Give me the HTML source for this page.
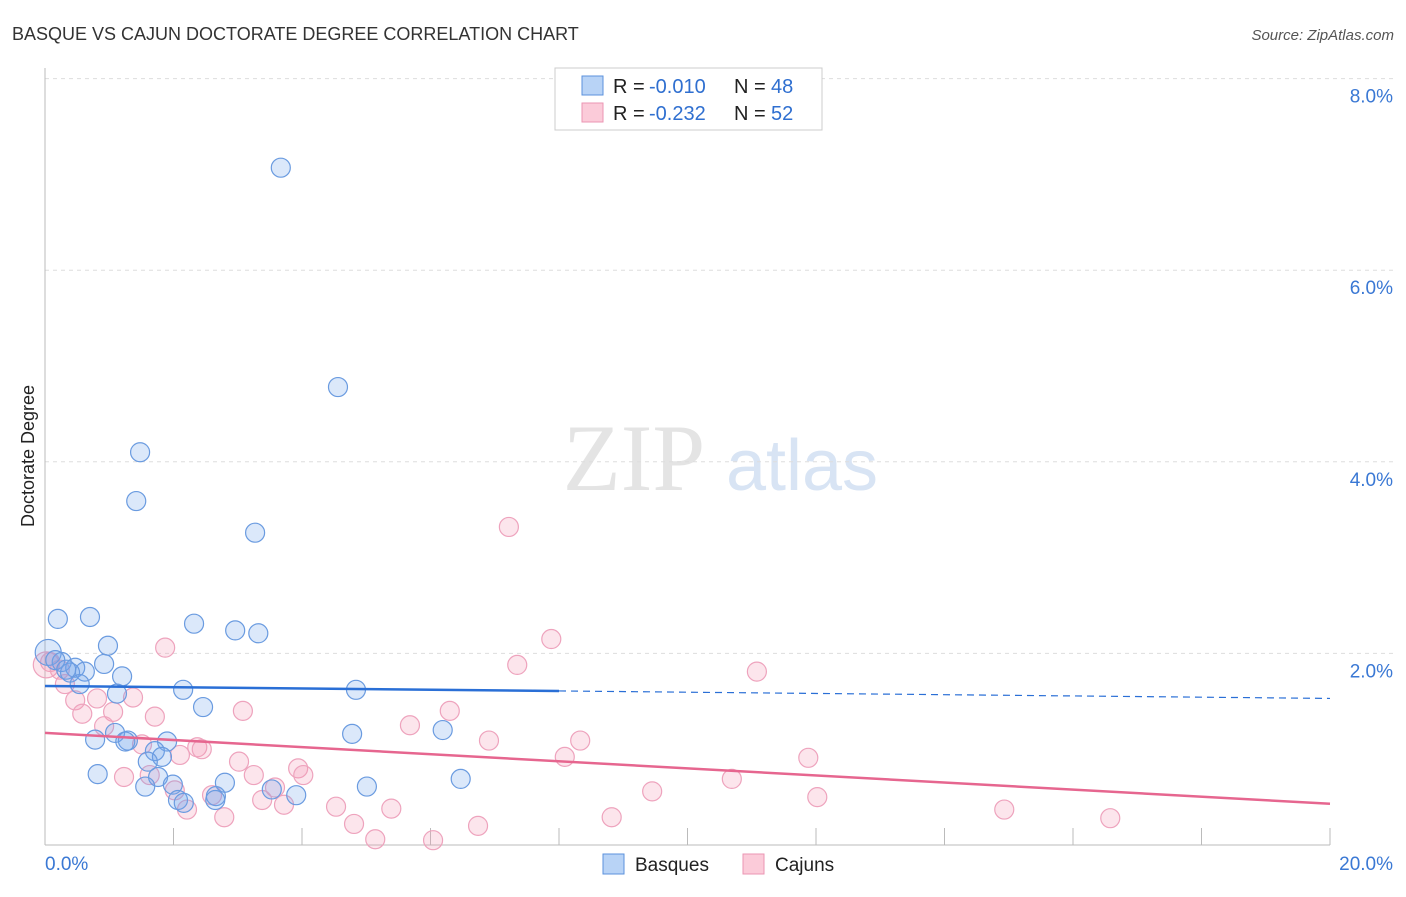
<!DOCTYPE html>
<html><head><meta charset="utf-8"><style>
body{margin:0;background:#fff;font-family:"Liberation Sans",sans-serif;}
#c{position:relative;width:1406px;height:892px;}
</style></head><body>
<div id="c">
<svg id="s" width="1406" height="892" xmlns="http://www.w3.org/2000/svg">
<text x="12" y="40" font-size="18" fill="#333">BASQUE VS CAJUN DOCTORATE DEGREE CORRELATION CHART</text>
<text x="1394" y="40" font-size="15" fill="#555" font-style="italic" text-anchor="end">Source: ZipAtlas.com</text>
<text x="634" y="490" font-size="95" fill="#e4e4e4" font-family="Liberation Serif,serif" text-anchor="middle">ZIP</text>
<text x="802" y="490" font-size="72" fill="#d8e4f4" text-anchor="middle">atlas</text>
<text transform="translate(34,456) rotate(-90)" font-size="18" fill="#222" text-anchor="middle">Doctorate Degree</text>
<g id="grid"></g><g id="pts"></g><g id="trend"></g>
<g>
<rect x="555" y="68" width="267" height="62" fill="#fff" stroke="#ccc"/>
<rect x="582" y="76" width="21" height="19" fill="#b8d3f6" stroke="#5b92dc"/>
<rect x="582" y="103" width="21" height="19" fill="#fbcbd9" stroke="#eb96b3"/>
<text x="613" y="93" font-size="20" fill="#222">R =</text>
<text x="649" y="93" font-size="20" fill="#2f6fd0">-0.010</text>
<text x="734" y="93" font-size="20" fill="#222">N =</text>
<text x="771" y="93" font-size="20" fill="#2f6fd0">48</text>
<text x="613" y="120" font-size="20" fill="#222">R =</text>
<text x="649" y="120" font-size="20" fill="#2f6fd0">-0.232</text>
<text x="734" y="120" font-size="20" fill="#222">N =</text>
<text x="771" y="120" font-size="20" fill="#2f6fd0">52</text>
</g>
<g>
<rect x="603" y="854" width="21" height="20" fill="#b8d3f6" stroke="#5b92dc"/>
<text x="635" y="871" font-size="19" fill="#222">Basques</text>
<rect x="743" y="854" width="21" height="20" fill="#fbcbd9" stroke="#eb96b3"/>
<text x="775" y="871" font-size="19" fill="#222">Cajuns</text>
</g>
</svg></div>
<script>
const yTicks=[2,4,6,8];
const yTickLabels=["2.0%","4.0%","6.0%","8.0%"];
const xTicks=[2,4,6,8,10,12,14,16,18,20];
const blueX=[3.67,4.56,1.48,1.42,3.27,0.20,0.70,2.32,2.96,3.32,0.98,0.05,0.26,0.92,0.47,0.62,0.39,1.20,0.54,2.15,1.12,4.84,2.46,0.78,4.78,6.19,1.29,1.90,1.09,1.71,1.82,1.60,0.82,1.76,2.80,1.99,1.56,5.01,6.47,2.66,3.91,2.07,2.16,2.65,3.53,1.25,0.16,0.33];
const blueY=[7.07,4.78,4.10,3.59,3.26,2.36,2.38,2.31,2.24,2.21,2.08,2.01,1.91,1.89,1.85,1.81,1.80,1.76,1.68,1.62,1.58,1.62,1.44,1.10,1.16,1.20,1.09,1.08,1.17,0.98,0.92,0.87,0.74,0.71,0.65,0.63,0.61,0.61,0.69,0.51,0.52,0.47,0.44,0.47,0.58,1.08,1.93,1.83];
const pinkX=[7.22,7.88,1.87,7.35,11.08,0.08,0.02,0.31,0.47,0.81,1.37,0.58,1.06,1.71,3.08,0.92,5.68,6.30,6.91,8.33,8.09,1.51,2.37,2.44,2.10,3.02,3.25,3.94,4.02,1.23,1.63,2.02,2.60,3.38,3.72,4.53,5.39,2.21,2.79,4.81,5.14,6.04,6.74,8.82,9.45,10.69,11.88,12.02,14.93,16.58,3.58,0.23];
const pinkY=[3.32,2.15,2.06,1.88,1.81,1.91,1.88,1.68,1.51,1.53,1.54,1.37,1.39,1.34,1.40,1.24,1.25,1.40,1.09,1.09,0.92,1.05,1.02,1.00,0.94,0.87,0.73,0.80,0.73,0.71,0.73,0.57,0.52,0.47,0.42,0.40,0.38,0.37,0.29,0.22,0.06,0.05,0.20,0.29,0.56,0.69,0.91,0.50,0.37,0.28,0.60,1.83];
const blueTrend=[1.66,1.53];
const pinkTrend=[1.17,0.43];
const NS="http://www.w3.org/2000/svg";
const X=v=>45+v/20*1285, Y=v=>845-v*95.8;
function mk(p,t,a){const e=document.createElementNS(NS,t);for(const k in a)e.setAttribute(k,a[k]);p.appendChild(e);return e;}
const g=document.getElementById('grid');
yTicks.forEach((t,i)=>{
 const l=mk(g,'line',{x1:45,x2:1395,y1:Y(t),y2:Y(t),stroke:'#ddd','stroke-dasharray':'4,4'});
 
 
 const tx=mk(g,'text',{x:1393,y:Y(t)+24,'font-size':19,fill:'#3a78d4','text-anchor':'end'});tx.textContent=yTickLabels[i];
 
 
});
const ax=mk(g,'line',{x1:45,x2:45,y1:68,y2:845,stroke:'#bbb'});


const bx=mk(g,'line',{x1:45,x2:1330,y1:845,y2:845,stroke:'#bbb'});


xTicks.forEach(t=>{const l=mk(g,'line',{x1:X(t),x2:X(t),y1:828,y2:845,stroke:'#bbb'});
 
 });
const x0=mk(g,'text',{x:45,y:870,'font-size':19,fill:'#3a78d4'});x0.textContent='0.0%';


const x1=mk(g,'text',{x:1393,y:870,'font-size':19,fill:'#3a78d4','text-anchor':'end'});x1.textContent='20.0%';


const P=document.getElementById('pts');
pinkX.forEach((v,i)=>{const c=mk(P,'circle',{cx:X(v),cy:Y(pinkY[i]),r:i==6?13:9.5,fill:'rgba(244,150,180,0.25)',stroke:'#eea3bd','stroke-width':1.2});
 
 });
blueX.forEach((v,i)=>{const c=mk(P,'circle',{cx:X(v),cy:Y(blueY[i]),r:i==11?13:9.5,fill:'rgba(110,165,235,0.25)',stroke:'#6a9be0','stroke-width':1.2});
 
 });
const T=document.getElementById('trend');
const by=x=>blueTrend[0]+(blueTrend[1]-blueTrend[0])*x/20;
const b1=mk(T,'line',{x1:X(0),y1:Y(by(0)),x2:X(8),y2:Y(by(8)),stroke:'#2a6fd6','stroke-width':2.5});


const b2=mk(T,'line',{x1:X(8),y1:Y(by(8)),x2:X(20),y2:Y(by(20)),stroke:'#2a6fd6','stroke-width':1.2,'stroke-dasharray':'7,5'});


const p1=mk(T,'line',{x1:X(0),y1:Y(pinkTrend[0]),x2:X(20),y2:Y(pinkTrend[1]),stroke:'#e6668f','stroke-width':2.5});


</script>
</body></html>
